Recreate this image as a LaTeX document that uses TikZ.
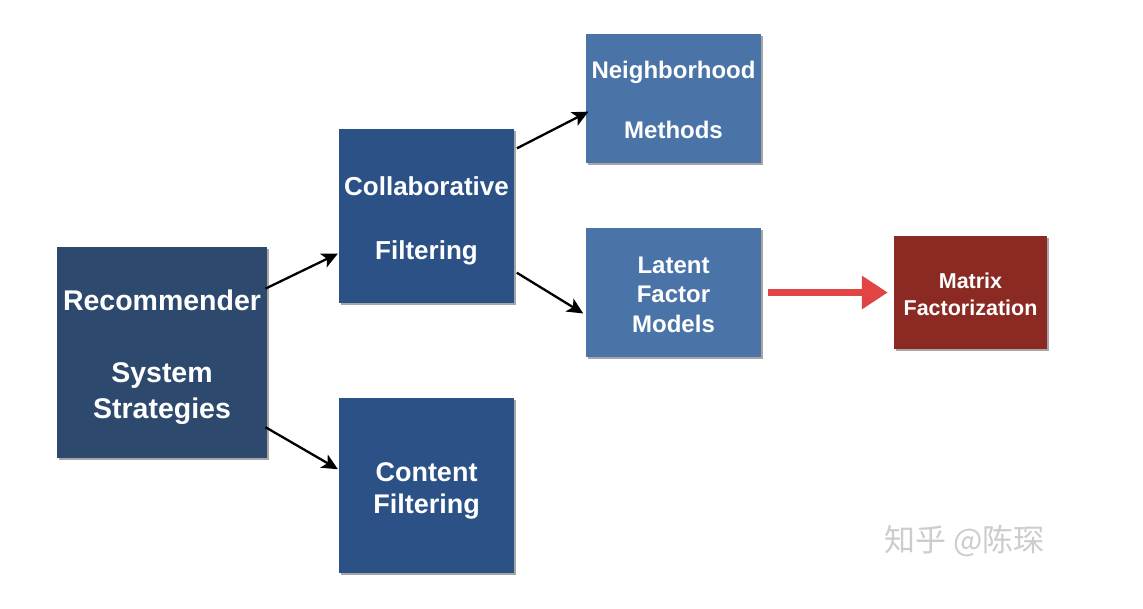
\documentclass[tikz,border=0pt]{standalone}
\usepackage{fontspec}
\setmainfont{Liberation Sans}
\newfontfamily\cjk{Noto Sans CJK SC}
\usetikzlibrary{calc,arrows.meta,shadows}
\definecolor{recblue}{HTML}{2D4A6E}
\definecolor{midblue}{HTML}{2B5187}
\definecolor{lightblue}{HTML}{4A74A8}
\definecolor{mfred}{HTML}{8A2A22}
\definecolor{redarrow}{HTML}{E04444}
\tikzset{
  box/.style={draw=none, inner sep=0pt,
    drop shadow={shadow xshift=1.5pt, shadow yshift=-2pt, opacity=0.35, fill=black}},
  boxtext/.style={text=white, align=center, inner sep=0pt},
  conn/.style={draw=black, line width=2.3pt, -{Stealth[length=16pt,width=15pt,inset=4pt]}},
}
\begin{document}
\begin{tikzpicture}[x=1pt,y=-1pt]
\useasboundingbox (0,0) rectangle (1143,608);
\node[box, fill=recblue, minimum width=210pt, minimum height=211pt] (rec) at (162,352.5) {};
\node[box, fill=midblue, minimum width=175pt, minimum height=174pt] (collab) at (426.5,216) {};
\node[box, fill=midblue, minimum width=175pt, minimum height=175pt] (content) at (426.5,485.5) {};
\node[box, fill=lightblue, minimum width=175pt, minimum height=129pt] (neigh) at (673.5,98.5) {};
\node[box, fill=lightblue, minimum width=175pt, minimum height=129pt] (latent) at (673.5,292.5) {};
\node[box, fill=mfred, minimum width=153pt, minimum height=113pt] (mf) at (970.5,292.5) {};

\node[boxtext, font=\fontsize{28.5}{36}\selectfont\bfseries] (recT) at ($(rec.center)+(0,5)$)
  {Recommender\\[36pt]System\\Strategies};
\node[boxtext, font=\fontsize{26}{32}\selectfont\bfseries] (collabT) at ($(collab.center)+(0,5)$)
  {Collaborative\\[32pt]Filtering};
\node[boxtext, font=\fontsize{27}{32}\selectfont\bfseries] (contentT) at ($(content.center)+(0,5)$)
  {Content\\Filtering};
\node[boxtext, font=\fontsize{24}{30}\selectfont\bfseries] (neighT) at ($(neigh.center)+(0,1.5)$)
  {Neighborhood\\[30pt]Methods};
\node[boxtext, font=\fontsize{24}{29.5}\selectfont\bfseries] (latentT) at ($(latent.center)+(0,2)$)
  {Latent\\Factor\\Models};
\node[boxtext, font=\fontsize{21.5}{27}\selectfont\bfseries] (mfT) at ($(mf.center)+(0,2)$)
  {Matrix\\Factorization};

\coordinate (a1s) at ($(rec.north east)!0.194!(rec.south east)$);
\coordinate (a1e) at ($(collab.north west)!0.713!(collab.south west)$);
\coordinate (a2s) at ($(rec.north east)!0.858!(rec.south east)$);
\coordinate (a2e) at ($(content.north west)!0.41!(content.south west)$);
\coordinate (a3s) at ($(collab.north east)!0.12!(collab.south east)$);
\coordinate (a3e) at ($(neigh.north west)!0.612!(neigh.south west)$);
\coordinate (a4s) at ($(collab.north east)!0.816!(collab.south east)$);
\coordinate (a4e) at ($(latent.north west)!0.674!(latent.south west)$);

\draw[conn, shorten <=-2pt, shorten >=1pt] (a1s) -- (a1e);
\draw[conn, shorten <=-2pt, shorten >=1pt] (a2s) -- (a2e);
\draw[conn, shorten <=3pt, shorten >=-3pt] (a3s) -- (a3e);
\draw[conn, shorten <=3pt, shorten >=3pt] (a4s) -- (a4e);

\draw[draw=redarrow, line width=7pt, -{Triangle[length=26pt,width=32pt]},
  shorten <=7pt, shorten >=6pt] (latent.east) -- (mf.west);

\node[text=gray!40, font=\cjk\fontsize{31}{36}\selectfont, anchor=west, inner sep=0pt] (wm) at (884,541) {知乎 @陈琛};
\end{tikzpicture}
\end{document}
